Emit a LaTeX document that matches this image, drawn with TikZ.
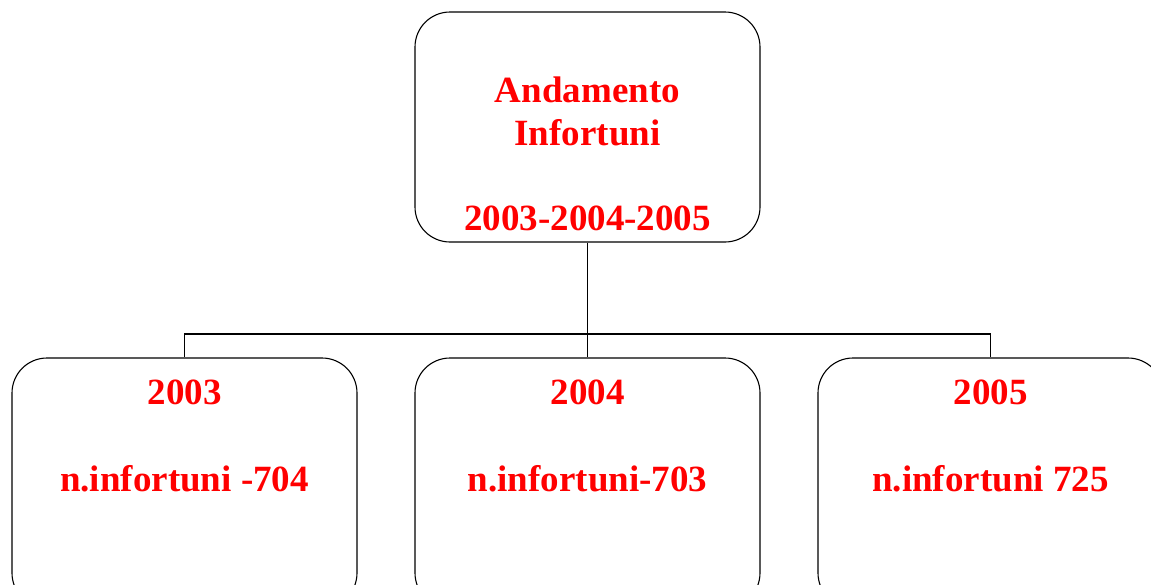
\documentclass[tikz,border=0pt]{standalone}
\usepackage{fontspec}
\setmainfont{Liberation Serif}
\begin{document}
\begin{tikzpicture}[x=1pt,y=-1pt,
  box/.style={draw=black,line width=1.1pt,rounded corners=35pt,minimum width=345pt,inner sep=0pt},
  lbl/.style={text=red,font=\fontsize{37}{42}\selectfont\bfseries,anchor=base,inner sep=0pt},
  conn/.style={draw=black,line width=1.2pt}]
\clip (0,0) rectangle (1151,584);
\fill[white] (0,0) rectangle (1151,584);
% boxes
\node[box,minimum height=230pt] (top) at (587.5,127) {};
\node[box,minimum height=250pt] (b1) at (184.5,483) {};
\node[box,minimum height=250pt] (b2) at (587.5,483) {};
\node[box,minimum height=250pt] (b3) at (990.5,483) {};
% texts
\node[lbl] (t1) at (587.5,102) {Andamento};
\node[lbl] (t2) at (587.5,145) {Infortuni};
\node[lbl] (t3) at (587.5,230) {2003-2004-2005};
\node[lbl] (y1) at (184.5,404) {2003};
\node[lbl] (n1) at (184.5,491) {n.infortuni -704};
\node[lbl] (y2) at (587.5,404) {2004};
\node[lbl] (n2) at (587.5,491) {n.infortuni-703};
\node[lbl] (y3) at (990.5,404) {2005};
\node[lbl] (n3) at (990.5,491) {n.infortuni 725};
% connectors
\coordinate (j) at (587.5,334);
\draw[conn] (top.south) -- (j);
\draw[conn] (j) -| (b1.north);
\draw[conn] (j) -| (b3.north);
\draw[conn] (j) -- (b2.north);
\end{tikzpicture}
\end{document}
